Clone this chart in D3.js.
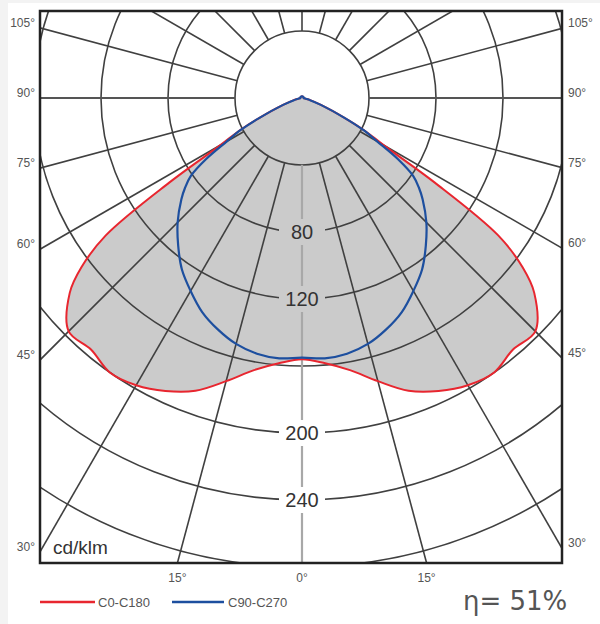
<!DOCTYPE html>
<html>
<head>
<meta charset="utf-8">
<script src="https://cdn.jsdelivr.net/npm/d3@7"></script>
<style>
  body { margin: 0; background: #fff; }
  svg { display: block; }
  text { font-family: "Liberation Sans", Arial, sans-serif; }
</style>
</head>
<body>
<div id="chart"></div>
<script>
// -------- DATA --------
// gamma angles (deg from nadir) and luminous intensity in cd/klm
const gammas    = [0, 5, 10, 15, 20, 25, 30, 35, 40, 45, 50, 52.5, 55, 57.5, 60, 62.5, 65, 70, 75, 80, 90, 120, 150, 180];
const c0c180    = [156, 159, 165, 175, 186, 193, 198, 200, 196, 197, 181, 166, 143, 94, 56, 42, 28, 12, 5, 2, 1, 1, 1, 1];
const c90c270   = [155, 156, 155, 152, 147, 141, 133, 125, 115, 105, 94, 88, 81, 68, 52, 41, 28, 12, 5, 2, 1, 1, 1, 1];

const ringValues  = [40, 80, 120, 160, 200, 240, 280, 320];
const ringLabels  = [80, 120, 200, 240];
const spokeAngles = d3.range(0, 360, 15);
const sideLabels  = [105, 90, 75, 60, 45, 30];   // on left and right frame
const bottomLabels = [-15, 0, 15];               // on bottom frame
const seriesNames = ["C0-C180", "C90-C270"];
const efficiency  = "η= 51%";
const unitLabel   = "cd/klm";

// -------- LAYOUT --------
const width = 600, height = 624;
const frame = {left: 40, top: 11, right: 562, bottom: 563};
const cx = 302, cy = 98;
const colors = {red: "#e8262f", blue: "#1d4f9f", fill: "#cbcbcb", grid: "#404040"};

const r = d3.scaleLinear().domain([0, 240]).range([0, 402]);
const rad = d => d * Math.PI / 180;

const svg = d3.select("#chart").append("svg")
  .attr("width", width)
  .attr("height", height);

svg.append("defs").append("clipPath").attr("id", "frameClip")
  .append("rect")
    .attr("x", frame.left).attr("y", frame.top)
    .attr("width", frame.right - frame.left)
    .attr("height", frame.bottom - frame.top);

// light page edge
svg.append("rect").attr("x", 0).attr("y", 0).attr("width", 8).attr("height", height).attr("fill", "#f3f3f3");
svg.append("rect").attr("x", 0).attr("y", 0).attr("width", width).attr("height", 3).attr("fill", "#f3f3f3");

const plot = svg.append("g").attr("clip-path", "url(#frameClip)");
const center = plot.append("g").attr("transform", `translate(${cx},${cy})`);

// mirror a half curve to both sides (gamma -> d3 radial angle, 0 = down)
function fullCurve(values) {
  const pts = [];
  for (let i = gammas.length - 2; i > 0; i--) pts.push([-gammas[i], values[i]]);
  for (let i = 0; i < gammas.length - 1; i++) pts.push([gammas[i], values[i]]);
  return pts;
}
const radialLine = d3.lineRadial()
  .angle(d => Math.PI - rad(d[0]))
  .radius(d => r(d[1]))
  .curve(d3.curveCatmullRomClosed.alpha(0.5));

// -------- FILL --------
center.append("path")
  .attr("d", radialLine(fullCurve(c0c180)))
  .attr("fill", colors.fill);

// -------- GRID --------
center.selectAll(".ring")
  .data(ringValues)
  .join("circle")
    .attr("class", "ring")
    .attr("r", d => r(d))
    .attr("fill", "none")
    .attr("stroke", colors.grid)
    .attr("stroke-width", 1.6);

center.selectAll(".spoke")
  .data(spokeAngles)
  .join("line")
    .attr("class", "spoke")
    .attr("x1", d => r(40) * Math.sin(rad(d)))
    .attr("y1", d => r(40) * Math.cos(rad(d)))
    .attr("x2", d => r(400) * Math.sin(rad(d)))
    .attr("y2", d => r(400) * Math.cos(rad(d)))
    .attr("stroke", d => d === 0 ? "#a8a8a8" : (d === 90 || d === 270) ? "#555" : colors.grid)
    .attr("stroke-width", d => (d === 0 || d === 90 || d === 270) ? 2.2 : 1.6);

// ring labels along the 0° axis, with a gap in the grid
const redAtNadir = r(c0c180[0]);
const ringLab = center.selectAll(".ringLabel")
  .data(ringLabels)
  .join("g")
    .attr("class", "ringLabel")
    .attr("transform", d => `translate(0,${r(d)})`);
ringLab.append("rect")
  .attr("x", -23).attr("y", -13).attr("width", 46).attr("height", 26)
  .attr("fill", d => r(d) < redAtNadir ? colors.fill : "#fff");
ringLab.append("text")
  .attr("text-anchor", "middle")
  .attr("dy", "0.36em")
  .style("font-size", "20px")
  .attr("fill", "#333")
  .text(d => d);

// -------- CURVES --------
center.append("path")
  .attr("d", radialLine(fullCurve(c0c180)))
  .attr("fill", "none")
  .attr("stroke", colors.red)
  .attr("stroke-width", 2);
center.append("path")
  .attr("d", radialLine(fullCurve(c90c270)))
  .attr("fill", "none")
  .attr("stroke", colors.blue)
  .attr("stroke-width", 2.2);

plot.append("text")
  .attr("x", 53).attr("y", 554)
  .style("font-size", "19px")
  .attr("fill", "#333")
  .text(unitLabel);

// -------- FRAME --------
svg.append("rect")
  .attr("x", frame.left).attr("y", frame.top)
  .attr("width", frame.right - frame.left)
  .attr("height", frame.bottom - frame.top)
  .attr("fill", "none")
  .attr("stroke", "#222")
  .attr("stroke-width", 2.5);

// angle labels where spokes meet the frame
const sideG = svg.append("g").style("font-size", "12px").attr("fill", "#555");
sideLabels.forEach(g => {
  const y = cy + (cx - frame.left) * Math.cos(rad(g)) / Math.sin(rad(g));
  sideG.append("text").attr("x", frame.left - 5).attr("y", y - 1)
    .attr("text-anchor", "end").text(g + "°");
  const y2 = cy + (frame.right - cx) * Math.cos(rad(g)) / Math.sin(rad(g));
  sideG.append("text").attr("x", frame.right + 6).attr("y", y2 - 1)
    .attr("text-anchor", "start").text(g + "°");
});
bottomLabels.forEach(g => {
  const x = cx + (frame.bottom - cy) * Math.tan(rad(g));
  sideG.append("text").attr("x", x).attr("y", 582)
    .attr("text-anchor", "middle").text(Math.abs(g) + "°");
});

// -------- LEGEND --------
const legend = svg.append("g");
[[40, 95, colors.red, 98], [172, 224, colors.blue, 228]].forEach((l, i) => {
  legend.append("line")
    .attr("x1", l[0]).attr("x2", l[1]).attr("y1", 602).attr("y2", 602)
    .attr("stroke", l[2]).attr("stroke-width", 2.5);
  legend.append("text")
    .attr("x", l[3]).attr("y", 607)
    .style("font-size", "13px")
    .attr("fill", "#555")
    .text(seriesNames[i]);
});

svg.append("text")
  .attr("x", 463).attr("y", 610)
  .style("font-family", "'DejaVu Sans', sans-serif")
  .style("font-size", "26px")
  .attr("fill", "#555")
  .text(efficiency);
</script>
</body>
</html>
